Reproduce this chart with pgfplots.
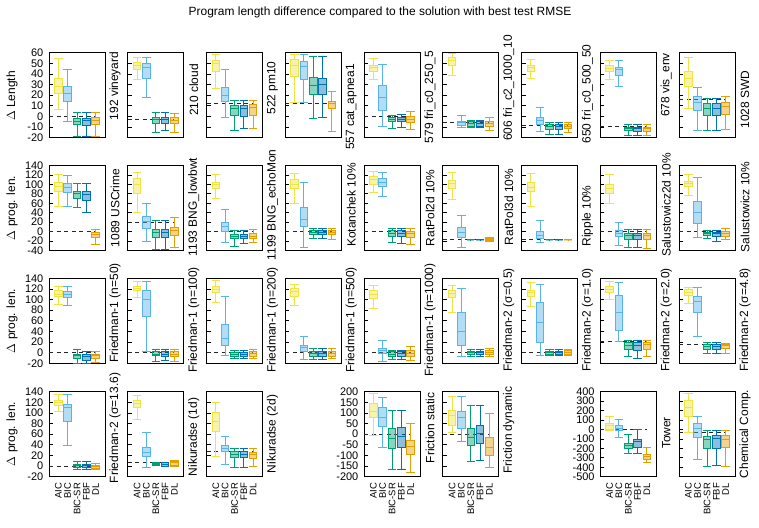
\documentclass[border=0pt]{standalone}
\usepackage{fontspec}
\setmainfont{Liberation Sans}
\usepackage{pgfplots}
\pgfplotsset{compat=1.18}
\usepgfplotslibrary{statistics}
\definecolor{c1}{HTML}{F0E442}
\definecolor{c2}{HTML}{56B4E9}
\definecolor{c3}{HTML}{009E73}
\definecolor{c4}{HTML}{0072B2}
\definecolor{c5}{HTML}{E69F00}
\pgfplotsset{
  panel/.style={scale only axis, width=56bp, height=85bp, xmin=0, xmax=6, anchor=north west,
    axis line style={line width=0.9bp}, tick align=inside, ytick pos=left, xtick=\empty,
    major tick length=4bp, tick style={line width=0.7bp, black},
    /pgf/number format/assume math mode=true,
    yticklabel style={inner sep=0pt, font=\fontsize{11}{11}\selectfont}, yticklabel shift=5.5bp},
  nolab/.style={yticklabels={}},
  rA/.style={ymin=-20,ymax=60,ytick={-20,-10,...,60}},
  rB/.style={ymin=-40,ymax=140,ytick={-40,-20,...,140}},
  rC/.style={ymin=-20,ymax=140,ytick={-20,0,...,140}},
  rF/.style={ymin=-200,ymax=200,ytick={-200,-150,...,200}},
  rT/.style={ymin=-500,ymax=400,ytick={-500,-400,...,400}},
  xl/.style={xtick={1,2,3,4,5}, xticklabels={AIC,BIC,BIC-SR,FBF,DL},
    xticklabel style={rotate=90, anchor=east, inner sep=0pt, font=\fontsize{9.5}{10}\selectfont}, xticklabel shift=6bp, xtick style={draw=none}},
}
\newcommand{\bx}[6]{\addplot[draw=c#1, fill=c#1, fill opacity=0.45, line width=0.9bp,
  boxplot/draw direction=y,
  boxplot prepared={draw position=#1, lower whisker=#2, lower quartile=#3, median=#4,
  upper quartile=#5, upper whisker=#6, box extend=0.8, whisker extend=0.9}] coordinates {};}
\newcommand{\dl}[1]{\addplot[black!85, line width=0.8bp, dash pattern=on 4bp off 3.5bp] coordinates {(0,#1) (5,#1)};}
\newcommand{\lab}[3]{\node[rotate=90, font=\fontsize{12}{13}\selectfont] at (#1bp,-#2bp) {#3};}
\begin{document}
\begin{tikzpicture}
\path[use as bounding box] (0,0) rectangle (759bp,-528bp);
\node[font=\fontsize{12}{13}\selectfont] at (380bp,-12bp) {Program length difference compared to the solution with best test RMSE};
% ---------------- Row 1 ----------------
\begin{axis}[panel, rA, at={(49bp,-52.7bp)}]
\dl{0}
\bx{1}{7}{22}{28}{36}{55}
\bx{2}{-5}{14.5}{22}{28}{44}
\bx{3}{-19}{-8}{-4.3}{-1.8}{3.8}
\bx{4}{-18.4}{-8.4}{-4}{-1.8}{3.8}
\bx{5}{-19}{-7.4}{-4}{-1.2}{3.8}
\end{axis}
\begin{axis}[panel, rA, nolab, at={(127.75bp,-52.7bp)}]
\dl{-2.4}
\bx{1}{35}{44.3}{48.4}{50.6}{56}
\bx{2}{18}{35.8}{46}{50}{55.3}
\bx{3}{-15}{-6.5}{-2.7}{-0.9}{3.8}
\bx{4}{-12.8}{-6.5}{-2.7}{-0.9}{3.8}
\bx{5}{-15}{-6.5}{-3.4}{-0.9}{2.9}
\end{axis}
\begin{axis}[panel, rA, nolab, at={(206.5bp,-52.7bp)}]
\dl{12.3}
\bx{1}{26.4}{42.7}{50}{53}{58.4}
\bx{2}{-0.9}{13.9}{20}{27}{44.3}
\bx{3}{-12.8}{0.7}{7.5}{10.7}{14.8}
\bx{4}{-11.2}{0.4}{7.5}{10.7}{14.8}
\bx{5}{-11.2}{1.3}{8}{11.7}{14.8}
\end{axis}
\begin{axis}[panel, rA, nolab, at={(285.25bp,-52.7bp)}]
\dl{12.3}
\bx{1}{13.3}{38}{48.4}{54}{58.4}
\bx{2}{13.3}{35}{47.5}{51.5}{58.4}
\bx{3}{-1.8}{20.8}{29.6}{36.8}{56.9}
\bx{4}{-1.2}{20.8}{30.2}{35.8}{56.9}
\bx{5}{-14.3}{7.6}{12.3}{14.5}{23.3}
\end{axis}
\begin{axis}[panel, rA, nolab, at={(364bp,-52.7bp)}]
\dl{0}
\bx{1}{35}{42.7}{46.2}{48.4}{54.7}
\bx{2}{-9}{6}{18}{29.6}{49.3}
\bx{3}{-11.2}{-5}{-2.7}{-1.2}{1.3}
\bx{4}{-10.3}{-5}{-2.4}{-1.2}{2}
\bx{5}{-12.2}{-5.6}{-2.4}{-0.2}{5.1}
\end{axis}
\begin{axis}[panel, rA, nolab, at={(442.75bp,-52.7bp)}]
\dl{-5.9}
\bx{1}{39}{48.4}{52.5}{56}{59.5}
\bx{2}{-10.6}{-8.7}{-5.9}{-4.3}{1.3}
\bx{3}{-10.3}{-9}{-6.5}{-5}{-4}
\bx{4}{-10.3}{-9}{-6.5}{-5}{-4}
\bx{5}{-12.8}{-9}{-6.5}{-4.3}{-1.2}
\end{axis}
\begin{axis}[panel, rA, nolab, at={(521.5bp,-52.7bp)}]
\dl{-8.7}
\bx{1}{35.8}{42.7}{45.9}{48.4}{54}
\bx{2}{-13.7}{-7.1}{-3.4}{-1.2}{8.2}
\bx{3}{-16.5}{-11.8}{-9.6}{-8}{-5.9}
\bx{4}{-16.5}{-11.8}{-9.6}{-7.4}{-5.9}
\bx{5}{-14.6}{-11.5}{-9}{-7.4}{-5.9}
\end{axis}
\begin{axis}[panel, rA, nolab, at={(600.25bp,-52.7bp)}]
\dl{-9.6}
\bx{1}{35}{42.7}{45.3}{48.4}{53.1}
\bx{2}{28}{39}{44.3}{45.9}{53.1}
\bx{3}{-17.5}{-13.4}{-11.2}{-10.3}{-7.1}
\bx{4}{-17.5}{-13.7}{-11.5}{-10.3}{-7.1}
\bx{5}{-17.5}{-13.7}{-11.5}{-10.3}{-7.4}
\end{axis}
\begin{axis}[panel, rA, nolab, at={(679bp,-52.7bp)}]
\dl{16.4}
\bx{1}{7.6}{28}{35.8}{42.1}{55.6}
\bx{2}{-12.8}{6}{13.3}{18.6}{27}
\bx{3}{-12.8}{1.3}{7.6}{12.3}{17}
\bx{4}{-12.8}{1.3}{7.6}{12.3}{17}
\bx{5}{-11.8}{2.3}{9.2}{13.3}{18.6}
\end{axis}
% ---------------- Row 2 ----------------
\begin{axis}[panel, rB, at={(49bp,-165.5bp)}]
\dl{0}
\bx{1}{53.9}{85.6}{95.5}{104.7}{120.2}
\bx{2}{53.9}{82.1}{92.7}{101.2}{118.8}
\bx{3}{51.8}{69.4}{80}{85}{102.6}
\bx{4}{39.8}{65.9}{78.6}{85}{102.6}
\bx{5}{-27.3}{-13.2}{-6.8}{-1.2}{4.4}
\end{axis}
\begin{axis}[panel, rB, nolab, at={(127.75bp,-165.5bp)}]
\dl{20}
\bx{1}{39.8}{80}{99}{111.8}{124.5}
\bx{2}{-20.2}{7.3}{21.4}{32.7}{60.2}
\bx{3}{-38.6}{-13.2}{-2.6}{4.4}{23.5}
\bx{4}{-38.6}{-13.2}{-1.2}{4.4}{23.5}
\bx{5}{-33}{-8.3}{2.3}{9.4}{30.6}
\end{axis}
\begin{axis}[panel, rB, nolab, at={(206.5bp,-165.5bp)}]
\dl{0}
\bx{1}{69.4}{92}{99}{104.7}{120.2}
\bx{2}{-22.4}{0.2}{10.8}{20}{46.1}
\bx{3}{-30.8}{-15.3}{-10.6}{-6.4}{3.5}
\bx{4}{-24.5}{-15.3}{-10.6}{-6.4}{3.5}
\bx{5}{-22.4}{-15.3}{-9.6}{-4.9}{4.2}
\end{axis}
\begin{axis}[panel, rB, nolab, at={(285.25bp,-165.5bp)}]
\dl{0}
\bx{1}{60.2}{90.6}{99}{109.6}{123.8}
\bx{2}{-34.4}{10.8}{25.6}{51.8}{104.7}
\bx{3}{-13.9}{-6.2}{-1.2}{2.3}{5.9}
\bx{4}{-13.9}{-6.2}{-1.2}{2.3}{5.9}
\bx{5}{-17.4}{-6.9}{-1.2}{2.3}{5.9}
\end{axis}
\begin{axis}[panel, rB, nolab, at={(364bp,-165.5bp)}]
\dl{0}
\bx{1}{82.1}{99.8}{110.4}{116.7}{128}
\bx{2}{75}{95.5}{104.7}{113.2}{125.9}
\bx{3}{-22.4}{-10.4}{-3.3}{2.3}{7.3}
\bx{4}{-25.9}{-10.4}{-3.3}{2.3}{7.3}
\bx{5}{-27.3}{-11.8}{-4.7}{0.2}{7.3}
\end{axis}
\begin{axis}[panel, rB, nolab, at={(442.75bp,-165.5bp)}]
\dl{-17.4}
\bx{1}{67.3}{90.6}{101.2}{108.2}{124.5}
\bx{2}{-34.4}{-13.2}{-1.2}{8}{34.1}
\bx{3}{-17.6}{-17.5}{-17.4}{-17.3}{-17.2}
\bx{4}{-17.6}{-17.5}{-17.4}{-17.3}{-17.2}
\bx{5}{-20}{-18.8}{-17.4}{-15.3}{-13.2}
\end{axis}
\begin{axis}[panel, rB, nolab, at={(521.5bp,-165.5bp)}]
\dl{-17.4}
\bx{1}{53.2}{84.9}{94.1}{104.7}{122.4}
\bx{2}{-23.8}{-15.3}{-8.3}{0.2}{23.5}
\bx{3}{-17.6}{-17.5}{-17.4}{-17.3}{-17.2}
\bx{4}{-17.6}{-17.5}{-17.4}{-17.3}{-17.2}
\bx{5}{-17.6}{-17.5}{-17.4}{-17.3}{-17.2}
\end{axis}
\begin{axis}[panel, rB, nolab, at={(600.25bp,-165.5bp)}]
\dl{0}
\bx{1}{60.2}{81.4}{92}{99}{121}
\bx{2}{-29.4}{-10.4}{-3.3}{2.3}{18.6}
\bx{3}{-34.4}{-16.7}{-8.3}{-4.9}{3.8}
\bx{4}{-34.4}{-17.4}{-8.3}{-4.9}{3.8}
\bx{5}{-36.5}{-17.4}{-9}{-4.9}{3.8}
\end{axis}
\begin{axis}[panel, rB, nolab, at={(679bp,-165.5bp)}]
\dl{0}
\bx{1}{76.5}{95.5}{101.2}{106.8}{121}
\bx{2}{-13.2}{17.9}{39.8}{64.5}{115.3}
\bx{3}{-15.3}{-8.3}{-4.9}{-1.4}{3.5}
\bx{4}{-20.9}{-10.4}{-4.9}{-1.4}{3.5}
\bx{5}{-17.4}{-10.4}{-3.3}{0.2}{7}
\end{axis}
% ---------------- Row 3 ----------------
\begin{axis}[panel, rC, at={(49bp,-278.3bp)}]
\dl{0}
\bx{1}{91.7}{105.5}{110.5}{116.2}{124.3}
\bx{2}{89.8}{104.2}{110.5}{114.9}{124.3}
\bx{3}{-20}{-10.6}{-5.6}{-2.5}{7}
\bx{4}{-20}{-13.7}{-7.5}{-3.1}{1.9}
\bx{5}{-18.1}{-10.6}{-5.6}{-2.5}{3.1}
\end{axis}
\begin{axis}[panel, rC, nolab, at={(127.75bp,-278.3bp)}]
\dl{0}
\bx{1}{103.6}{116.2}{121.2}{125.6}{135}
\bx{2}{1.9}{67.8}{100.5}{116.2}{135}
\bx{3}{-16.9}{-5.6}{-2.5}{1.9}{7}
\bx{4}{-13.7}{-7.5}{-2.5}{1.9}{7}
\bx{5}{-16.9}{-6.9}{-2.5}{1.9}{7}
\end{axis}
\begin{axis}[panel, rC, nolab, at={(206.5bp,-278.3bp)}]
\dl{0}
\bx{1}{94.8}{113}{119.3}{124.3}{135.6}
\bx{2}{-4.4}{13.2}{27}{52.2}{105.5}
\bx{3}{-10.6}{-6.3}{-3.1}{0}{3.8}
\bx{4}{-10.6}{-6.3}{-3.1}{0}{3.8}
\bx{5}{-10.6}{-6.3}{-1.3}{1.9}{7}
\end{axis}
\begin{axis}[panel, rC, nolab, at={(285.25bp,-278.3bp)}]
\dl{0}
\bx{1}{88.5}{105.5}{114.9}{121.2}{128.7}
\bx{2}{-11.9}{3.1}{10.1}{14.5}{30.2}
\bx{3}{-11.9}{-6.3}{-1.3}{1.9}{7.7}
\bx{4}{-11.9}{-6.3}{-1.3}{1.9}{7.7}
\bx{5}{-10.6}{-6.3}{-1.3}{1.9}{7.7}
\end{axis}
\begin{axis}[panel, rC, nolab, at={(364bp,-278.3bp)}]
\dl{0}
\bx{1}{83.5}{102.4}{110.5}{118}{126.2}
\bx{2}{-15.6}{-1.3}{5}{8.2}{23.9}
\bx{3}{-11.9}{-7.5}{-2.5}{1.9}{5}
\bx{4}{-11.9}{-6.3}{-1.3}{1.9}{5}
\bx{5}{-13.7}{-7.5}{-1.3}{3.8}{11.4}
\end{axis}
\begin{axis}[panel, rC, nolab, at={(442.75bp,-278.3bp)}]
\dl{0}
\bx{1}{76}{104.2}{111.8}{118}{126.2}
\bx{2}{-6.3}{14.5}{39.6}{76}{121.2}
\bx{3}{-7.5}{-3.1}{0}{3.1}{6.3}
\bx{4}{-7.5}{-3.1}{0}{3.1}{6.3}
\bx{5}{-7.5}{-3.1}{0.6}{3.8}{7.7}
\end{axis}
\begin{axis}[panel, rC, nolab, at={(521.5bp,-278.3bp)}]
\dl{0}
\bx{1}{87.9}{105.5}{113}{118}{132.5}
\bx{2}{-4.4}{19.5}{56.5}{94.2}{128.7}
\bx{3}{-4.4}{-3.1}{0}{3.1}{6.3}
\bx{4}{-4.4}{-3.1}{0}{3.1}{6.3}
\bx{5}{-4.4}{-3.1}{0.6}{3.8}{6.3}
\end{axis}
\begin{axis}[panel, rC, nolab, at={(600.25bp,-278.3bp)}]
\dl{20.8}
\bx{1}{100.5}{113.6}{119.3}{124.3}{135}
\bx{2}{20.8}{42.7}{76}{108.6}{131.8}
\bx{3}{-7.5}{6.3}{13.2}{19.5}{23.9}
\bx{4}{-10.6}{5}{14.5}{19.5}{23.9}
\bx{5}{-7.5}{6.3}{15.8}{19.5}{23.9}
\end{axis}
\begin{axis}[panel, rC, nolab, at={(679bp,-278.3bp)}]
\dl{15.8}
\bx{1}{92.9}{107.4}{113.6}{119.3}{123.1}
\bx{2}{31.4}{76}{96.1}{105.5}{123.1}
\bx{3}{-1.3}{6.3}{11.4}{15.8}{19.5}
\bx{4}{-1.3}{6.3}{12}{15.8}{19.5}
\bx{5}{-1.3}{8.2}{14.5}{15.8}{17.6}
\end{axis}
% ---------------- Row 4 ----------------
\begin{axis}[panel, rC, xl, at={(49bp,-391.7bp)}]
\dl{0}
\bx{1}{103.6}{114.9}{119.9}{124.3}{135}
\bx{2}{39.6}{83.5}{109.9}{116.2}{135}
\bx{3}{-5.6}{-3.1}{0.6}{3.8}{8.2}
\bx{4}{-5.6}{-3.1}{0.6}{3.8}{8.2}
\bx{5}{-5.6}{-4.4}{-1.3}{1.9}{5}
\end{axis}
\begin{axis}[panel, rC, xl, nolab, at={(127.75bp,-391.7bp)}]
\dl{6}
\bx{1}{87.9}{109.9}{118}{123.1}{132.5}
\bx{2}{-2.5}{17.6}{25.7}{35.2}{62.8}
\bx{3}{1.9}{3.8}{5}{6.3}{6.9}
\bx{4}{-1.3}{0}{3}{6.3}{6.9}
\bx{5}{0}{1.9}{6.3}{9.4}{10.1}
\end{axis}
\begin{axis}[panel, rC, xl, nolab, at={(206.5bp,-391.7bp)}]
\dl{27}
\bx{1}{17.6}{64.7}{83.5}{101.1}{119.9}
\bx{2}{3.8}{27}{33.3}{39.6}{55.3}
\bx{3}{-2.5}{15.7}{22.6}{27}{33.3}
\bx{4}{-2.5}{15.7}{22}{27}{33.3}
\bx{5}{-1.3}{14.5}{22}{25.7}{33.3}
\end{axis}
\begin{axis}[panel, rF, xl, at={(364bp,-391.7bp)}]
\dl{0}
\bx{1}{-7.1}{76.7}{108.3}{143}{190.5}
\bx{2}{-60.9}{37.2}{80}{127.3}{174.7}
\bx{3}{-163.6}{-65.6}{-18.3}{26}{113}
\bx{4}{-163.6}{-60.9}{-10.3}{32.4}{113}
\bx{5}{-179.4}{-94}{-57.7}{-30.8}{49.8}
\end{axis}
\begin{axis}[panel, rF, xl, nolab, at={(442.75bp,-391.7bp)}]
\dl{0}
\bx{1}{8.7}{41.9}{87.7}{113}{176.3}
\bx{2}{-34}{29.3}{76.7}{105.1}{176.3}
\bx{3}{-128.8}{-54.5}{-15}{29.3}{135.2}
\bx{4}{-125.7}{-45}{5.5}{41.9}{135.2}
\bx{5}{-157.3}{-100.4}{-60.9}{-15}{97.2}
\end{axis}
\begin{axis}[panel, rT, xl, at={(600.25bp,-391.7bp)}]
\dl{0}
\bx{1}{-12.6}{5}{44.3}{62}{133}
\bx{2}{-83.8}{-12.6}{15.9}{40.8}{104.8}
\bx{3}{-251}{-197.6}{-169.1}{-144.2}{-55.3}
\bx{4}{-251}{-186.9}{-126.4}{-101.5}{-1.9}
\bx{5}{-350.5}{-315}{-286.5}{-261.6}{-186.9}
\end{axis}
\begin{axis}[panel, rT, xl, nolab, at={(679bp,-391.7bp)}]
\dl{-30}
\bx{1}{-30.4}{133.2}{229.3}{307.5}{382}
\bx{2}{-315}{-80.2}{8.7}{62}{140.3}
\bx{3}{-393.2}{-197.6}{-101.5}{-73.1}{-12.6}
\bx{4}{-386}{-197.6}{-90.9}{-66}{-9}
\bx{5}{-393.2}{-186.9}{-101.5}{-66}{-9}
\end{axis}
% ---------------- labels ----------------
\lab{12}{96}{$\Delta$ Length}
\lab{12}{208}{$\Delta$ prog. len.}
\lab{12}{321}{$\Delta$ prog. len.}
\lab{12}{434}{$\Delta$ prog. len.}
% row 1
\lab{115}{86}{192 vineyard}
\lab{193.75}{90}{210 cloud}
\lab{272.5}{88}{522 pm10}
\lab{351.25}{107}{557 cat\_apnea1}
\lab{430}{97}{579 fri\_c0\_250\_5}
\lab{508.75}{88}{606 fri\_c2\_1000\_10}
\lab{587.5}{94}{650 fri\_c0\_500\_50}
\lab{666.25}{85}{678 vis\_env}
\lab{745}{99.5}{1028 SWD}
% row 2
\lab{115}{208}{1089 USCrime}
\lab{193.75}{207}{1193 BNG\_lowbwt}
\lab{272.5}{205}{1199 BNG\_echoMon}
\lab{351.25}{205}{Kotanchek 10\%}
\lab{430}{208}{RatPol2d 10\%}
\lab{508.75}{207}{RatPol3d 10\%}
\lab{587.5}{216}{Ripple 10\%}
\lab{666.25}{205}{Salustowicz2d 10\%}
\lab{745}{207}{Salustowicz 10\%}
% row 3
\lab{115}{313}{Friedman-1 (n=50)}
\lab{193.75}{320}{Friedman-1 (n=100)}
\lab{272.5}{320}{Friedman-1 (n=200)}
\lab{351.25}{320}{Friedman-1 (n=500)}
\lab{430}{320}{Friedman-1 (n=1000)}
\lab{508.75}{320}{Friedman-2 (σ=0.5)}
\lab{587.5}{320}{Friedman-2 (σ=1.0)}
\lab{666.25}{320}{Friedman-2 (σ=2.0)}
\lab{745}{320}{Friedman-2 (σ=4.8)}
% row 4
\lab{115}{428}{Friedman-2 (σ=13.6)}
\lab{193.75}{437}{Nikuradse (1d)}
\lab{272.5}{434}{Nikuradse (2d)}
\lab{430}{428}{Friction static}
\lab{508.75}{430}{Friction dynamic}
\lab{666.25}{433}{Tower}
\lab{745}{434}{Chemical Comp.}
\end{tikzpicture}
\end{document}
